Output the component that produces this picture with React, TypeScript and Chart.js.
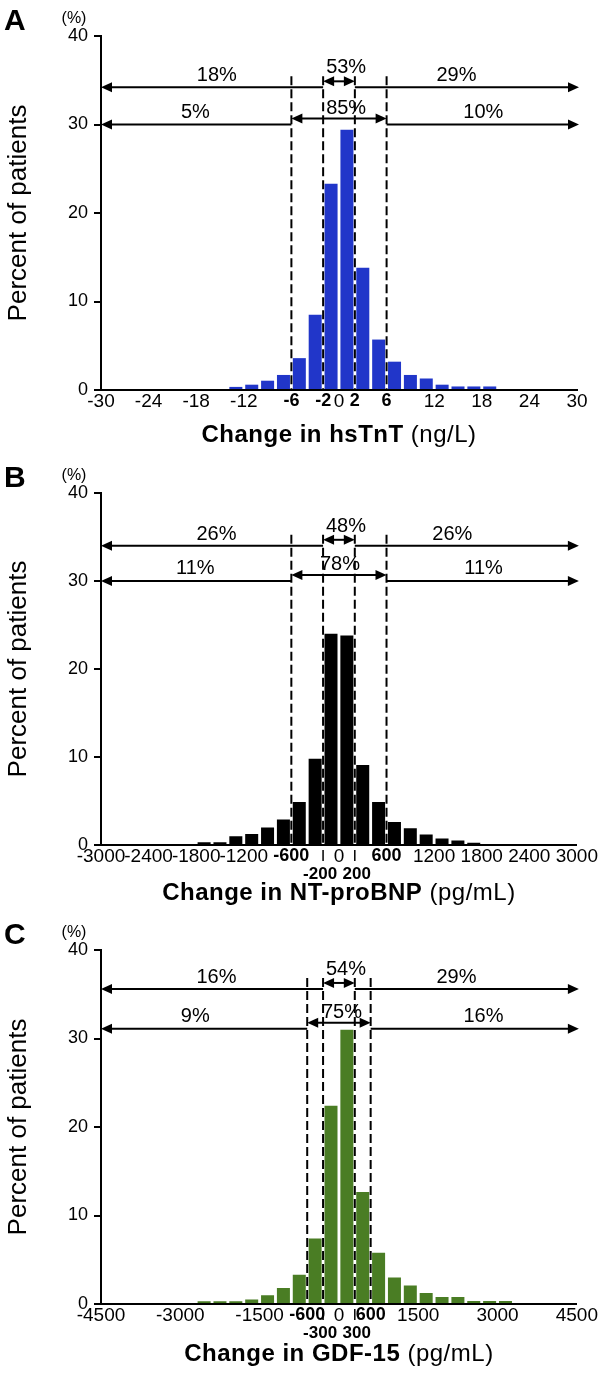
import React, { useEffect, useRef } from "react";
import { Chart, registerables } from "chart.js";
Chart.register(...registerables);

const FONT = '"Liberation Sans", Arial, Helvetica, sans-serif';

// ---------- Panel A : hsTnT (ng/L), bins of 2 ----------
const binCentersA = [-13, -11, -9, -7, -5, -3, -1, 1, 3, 5, 7, 9, 11, 13, 15, 17, 19];
const percentA = [0.35, 0.6, 1.05, 1.7, 3.6, 8.5, 23.3, 29.4, 13.8, 5.7, 3.2, 1.7, 1.3, 0.6, 0.4, 0.4, 0.4];
const ticksA = [-30, -24, -18, -12, -6, -2, 0, 2, 6, 12, 18, 24, 30];
const boldTicksA = [-6, -2, 2, 6];
const secondRowTicksA: number[] = [];
const cutsA = [-6, -2, 2, 6];
const rowLevelsA = [34.2, 30];
const upperLabelsA = ["18%", "53%", "29%"];
const lowerLabelsA = ["5%", "85%", "10%"];

// ---------- Panel B : NT-proBNP (pg/mL), bins of 200 ----------
const binCentersB = [-1700, -1500, -1300, -1100, -900, -700, -500, -300, -100, 100, 300, 500, 700, 900, 1100, 1300, 1500, 1700];
const percentB = [0.3, 0.3, 1.0, 1.25, 2.0, 2.9, 4.9, 9.8, 24.0, 23.8, 9.1, 4.9, 2.6, 1.9, 1.2, 0.75, 0.5, 0.25];
const ticksB = [-3000, -2400, -1800, -1200, -600, -200, 0, 200, 600, 1200, 1800, 2400, 3000];
const boldTicksB = [-600, -200, 200, 600];
const secondRowTicksB = [-200, 200];
const cutsB = [-600, -200, 200, 600];
const rowLevelsB = [34.0, 30];
const upperLabelsB = ["26%", "48%", "26%"];
const lowerLabelsB = ["11%", "78%", "11%"];

// ---------- Panel C : GDF-15 (pg/mL), bins of 300 ----------
const binCentersC = [-2550, -2250, -1950, -1650, -1350, -1050, -750, -450, -150, 150, 450, 750, 1050, 1350, 1650, 1950, 2250, 2550, 2850, 3150];
const percentC = [0.3, 0.3, 0.3, 0.5, 1.0, 1.8, 3.3, 7.4, 22.4, 31.0, 12.65, 5.8, 3.0, 2.1, 1.25, 0.8, 0.8, 0.35, 0.35, 0.35];
const ticksC = [-4500, -3000, -1500, -600, -300, 0, 300, 600, 1500, 3000, 4500];
const boldTicksC = [-600, -300, 300, 600];
const secondRowTicksC = [-300, 300];
const cutsC = [-600, -300, 300, 600];
const rowLevelsC = [35.6, 31.1];
const upperLabelsC = ["16%", "54%", "29%"];
const lowerLabelsC = ["9%", "75%", "16%"];

type PanelCfg = {
  letter: string;
  centers: number[];
  values: number[];
  color: string;
  xMin: number;
  xMax: number;
  ticks: number[];
  bold: number[];
  secondRow: number[];
  cuts: number[];
  rows: number[];
  upper: string[];
  lower: string[];
  upperX: number[];
  lowerX: number[];
  titleBold: string;
  titleNormal: string;
  top: number;
  height: number;
  plotTop: number;
  plotBottom: number;
  titleOffset: number;
};

const panels: PanelCfg[] = [
  {
    letter: "A", centers: binCentersA, values: percentA, color: "#2136c9",
    xMin: -30, xMax: 30, ticks: ticksA, bold: boldTicksA, secondRow: secondRowTicksA,
    cuts: cutsA, rows: rowLevelsA, upper: upperLabelsA, lower: lowerLabelsA,
    upperX: [-15.4, 0.9, 14.8], lowerX: [-18.1, 0.9, 18.2],
    titleBold: "Change in hsTnT", titleNormal: " (ng/L)",
    top: 0, height: 455, plotTop: 36, plotBottom: 390, titleOffset: 45,
  },
  {
    letter: "B", centers: binCentersB, values: percentB, color: "#000000",
    xMin: -3000, xMax: 3000, ticks: ticksB, bold: boldTicksB, secondRow: secondRowTicksB,
    cuts: cutsB, rows: rowLevelsB, upper: upperLabelsB, lower: lowerLabelsB,
    upperX: [-1545, 89, 1430], lowerX: [-1810, 13, 1823],
    titleBold: "Change in NT-proBNP", titleNormal: " (pg/mL)",
    top: 455, height: 458, plotTop: 38, plotBottom: 390, titleOffset: 48,
  },
  {
    letter: "C", centers: binCentersC, values: percentC, color: "#4a7d24",
    xMin: -4500, xMax: 4500, ticks: ticksC, bold: boldTicksC, secondRow: secondRowTicksC,
    cuts: cutsC, rows: rowLevelsC, upper: upperLabelsC, lower: lowerLabelsC,
    upperX: [-2317, 133, 2222], lowerX: [-2716, 57, 2734],
    titleBold: "Change in GDF-15", titleNormal: " (pg/mL)",
    top: 913, height: 466, plotTop: 37, plotBottom: 391, titleOffset: 50,
  },
];

function head(ctx: CanvasRenderingContext2D, tipX: number, y: number, dir: number) {
  const L = 11, W = 5;
  ctx.beginPath();
  ctx.moveTo(tipX, y);
  ctx.lineTo(tipX - dir * L, y - W);
  ctx.lineTo(tipX - dir * L, y + W);
  ctx.closePath();
  ctx.fill();
}
function hline(ctx: CanvasRenderingContext2D, x1: number, x2: number, y: number) {
  ctx.beginPath();
  ctx.moveTo(x1, y);
  ctx.lineTo(x2, y);
  ctx.stroke();
}

function makeOverlay(cfg: PanelCfg) {
  return {
    id: "overlay" + cfg.letter,
    afterDatasetsDraw(chart: any) {
      const ctx: CanvasRenderingContext2D = chart.ctx;
      const xs = chart.scales.x;
      const ys = chart.scales.y;
      const area = chart.chartArea;
      const base = ys.getPixelForValue(0);
      const yTop = ys.getPixelForValue(cfg.rows[0]);
      const yLow = ys.getPixelForValue(cfg.rows[1]);
      ctx.save();
      // dashed cut lines
      ctx.strokeStyle = "#000";
      ctx.lineWidth = 2;
      ctx.setLineDash([9, 4]);
      for (const c of cfg.cuts) {
        const x = xs.getPixelForValue(c);
        ctx.beginPath();
        ctx.moveTo(x, yTop - 11);
        ctx.lineTo(x, base);
        ctx.stroke();
      }
      ctx.setLineDash([]);
      // small leader marks and second-row labels
      ctx.lineWidth = 1.5;
      ctx.fillStyle = "#000";
      ctx.font = `bold 17px ${FONT}`;
      ctx.textAlign = "center";
      ctx.textBaseline = "middle";
      for (const v of cfg.secondRow) {
        const x = xs.getPixelForValue(v);
        ctx.beginPath();
        ctx.moveTo(x, base + 5);
        ctx.lineTo(x, base + 16);
        ctx.stroke();
        ctx.fillText(String(v), x + (v < 0 ? -3 : 2), base + 29);
      }
      // arrows
      ctx.lineWidth = 2;
      const left = area.left;
      const right = area.right + 2;
      const drawRow = (y: number, a: number, b: number) => {
        const xa = xs.getPixelForValue(a);
        const xb = xs.getPixelForValue(b);
        hline(ctx, left + 6, xa, y);
        head(ctx, left, y, -1);
        const ym = y - 6;
        hline(ctx, xa + 6, xb - 6, ym);
        head(ctx, xa, ym, -1);
        head(ctx, xb, ym, 1);
        hline(ctx, xb, right - 6, y);
        head(ctx, right, y, 1);
      };
      drawRow(yTop, cfg.cuts[1], cfg.cuts[2]);
      drawRow(yLow, cfg.cuts[0], cfg.cuts[3]);
      // percentage labels
      ctx.font = `20px ${FONT}`;
      ctx.textAlign = "center";
      ctx.textBaseline = "alphabetic";
      ctx.fillText(cfg.upper[0], xs.getPixelForValue(cfg.upperX[0]), yTop - 6);
      ctx.fillText(cfg.upper[1], xs.getPixelForValue(cfg.upperX[1]), yTop - 14);
      ctx.fillText(cfg.upper[2], xs.getPixelForValue(cfg.upperX[2]), yTop - 6);
      ctx.fillText(cfg.lower[0], xs.getPixelForValue(cfg.lowerX[0]), yLow - 7);
      ctx.fillText(cfg.lower[1], xs.getPixelForValue(cfg.lowerX[1]), yLow - 11);
      ctx.fillText(cfg.lower[2], xs.getPixelForValue(cfg.lowerX[2]), yLow - 7);

      // panel letter and (%)
      ctx.textAlign = "left";
      ctx.font = `bold 30px ${FONT}`;
      ctx.fillText(cfg.letter, 4, area.top - 6);
      ctx.textAlign = "center";
      ctx.font = `16px ${FONT}`;
      ctx.fillText("(%)", 74, area.top - 13);

      // y-axis title
      ctx.save();
      ctx.translate(19, (area.top + area.bottom) / 2);
      ctx.rotate(-Math.PI / 2);
      ctx.font = `26px ${FONT}`;
      ctx.textAlign = "center";
      ctx.textBaseline = "middle";
      ctx.fillText("Percent of patients", 0, 0);
      ctx.restore();

      // x-axis title (bold + normal)
      ctx.textBaseline = "middle";
      ctx.textAlign = "left";
      (ctx as any).letterSpacing = "0.5px";
      ctx.font = `bold 24px ${FONT}`;
      const wB = ctx.measureText(cfg.titleBold).width;
      ctx.font = `24px ${FONT}`;
      const wN = ctx.measureText(cfg.titleNormal).width;
      const cx = (area.left + area.right) / 2;
      const ty = base + cfg.titleOffset;
      const sx = cx - (wB + wN) / 2;
      ctx.font = `bold 24px ${FONT}`;
      ctx.fillText(cfg.titleBold, sx, ty);
      ctx.font = `24px ${FONT}`;
      ctx.fillText(cfg.titleNormal, sx + wB, ty);
      (ctx as any).letterSpacing = "0px";
      ctx.restore();
    },
  };
}

function Panel({ cfg }: { cfg: PanelCfg }) {
  const ref = useRef<HTMLCanvasElement | null>(null);
  useEffect(() => {
    if (!ref.current) return;
    const xHeight = cfg.height - cfg.plotBottom;
    const chart = new Chart(ref.current, {
      type: "bar",
      data: {
        datasets: [
          {
            data: cfg.centers.map((c, i) => ({ x: c, y: cfg.values[i] })),
            backgroundColor: cfg.color,
            borderWidth: 0,
            barPercentage: 0.82,
            categoryPercentage: 1,
          } as any,
        ],
      },
      options: {
        animation: false,
        responsive: false,
        maintainAspectRatio: false,
        layout: { padding: { top: cfg.plotTop, right: 23, left: 0, bottom: 0 } },
        plugins: {
          legend: { display: false },
          tooltip: { enabled: false },
          title: { display: false },
        },
        scales: {
          x: {
            type: "linear",
            min: cfg.xMin,
            max: cfg.xMax,
            offset: false,
            grid: { display: false, drawTicks: false, offset: false },
            border: { display: true, color: "#000", width: 2 },
            afterBuildTicks: (s: any) => {
              s.ticks = cfg.ticks.map((v) => ({ value: v }));
            },
            afterFit: (s: any) => {
              s.height = xHeight;
            },
            ticks: {
              autoSkip: false,
              maxRotation: 0,
              minRotation: 0,
              padding: 2,
              color: "#000",
              font: (ctx: any) => {
                const b = ctx.tick && cfg.bold.includes(ctx.tick.value);
                return { family: FONT, size: b ? 18 : 19, lineHeight: 1.0, weight: b ? "bold" : "normal" };
              },
              callback: (v: any) => {
                const n = Number(v);
                return cfg.secondRow.includes(n) ? "" : String(n);
              },
            },
          } as any,
          y: {
            min: 0,
            max: 40,
            ticks: { stepSize: 10, color: "#000", font: { family: FONT, size: 18 }, padding: 6 },
            grid: { drawOnChartArea: false, drawTicks: true, tickLength: 7, color: "#000", lineWidth: 2 },
            border: { display: true, color: "#000", width: 2 },
            afterFit: (s: any) => {
              s.width = 101;
            },
          } as any,
        },
      },
      plugins: [makeOverlay(cfg)],
    });
    return () => chart.destroy();
  }, [cfg]);
  return (
    <canvas
      ref={ref}
      width={600}
      height={cfg.height}
      style={{ position: "absolute", left: 0, top: cfg.top, width: 600, height: cfg.height, display: "block" }}
    />
  );
}

export default function App() {
  return (
    <div style={{ position: "absolute", left: 0, top: 0, width: 600, height: 1379, background: "#fff" }}>
      {panels.map((p) => (
        <Panel key={p.letter} cfg={p} />
      ))}
    </div>
  );
}
